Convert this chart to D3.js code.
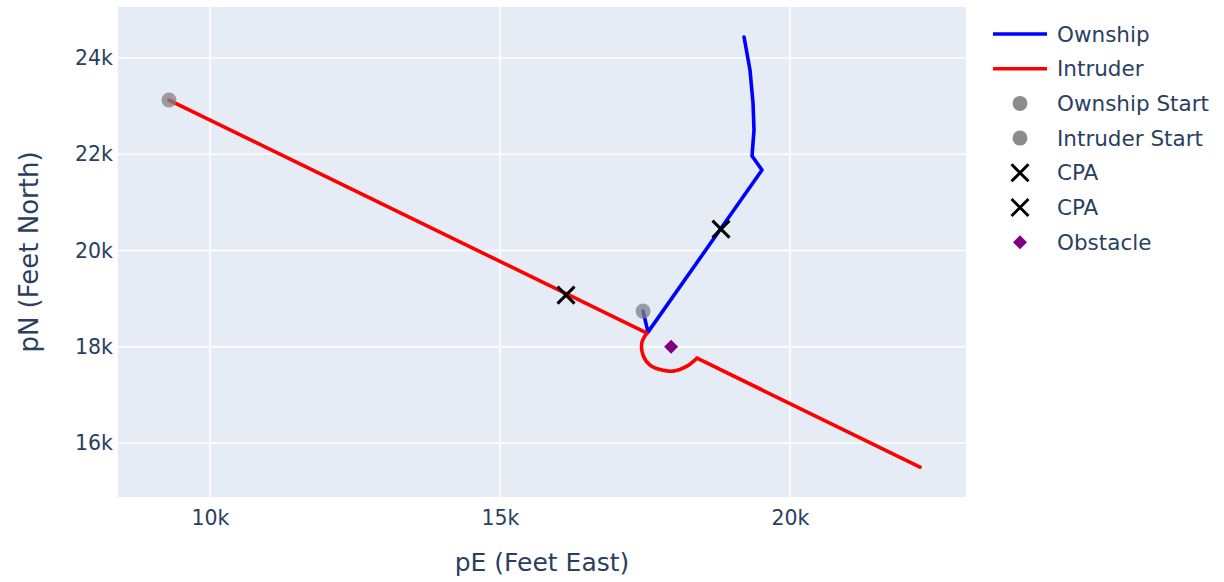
<!DOCTYPE html>
<html><head><meta charset="utf-8">
<script src="https://cdn.jsdelivr.net/npm/d3@7"></script>
<style>body{margin:0;background:#fff;}</style>
</head><body><svg id="c" width="1224" height="582"></svg>
<script>
const ownshipE = [17466, 17552, 19517, 19345, 19379, 19362, 19310, 19207];
const ownshipN = [18740, 18304, 21672, 21963, 22503, 23064, 23751, 24437];
const intruderE = [9293, 17534, 17448, 17466, 17586, 17793, 17983, 18224, 18397, 22241];
const intruderN = [23127, 18283, 18096, 17825, 17617, 17514, 17493, 17597, 17763, 15497];
const ownshipStart = [17466, 18740];
const intruderStart = [9293, 23127];
const cpaOwn = [18810, 20445];
const cpaInt = [16138, 19073];
const obstacle = [17950, 18000];
const xTicks = [10000, 15000, 20000];
const yTicks = [16000, 18000, 20000, 22000, 24000];
const legendNames = ["Ownship","Intruder","Ownship Start","Intruder Start","CPA","CPA","Obstacle"];

const FONT = "DejaVu Sans, Verdana, sans-serif";
const svg = d3.select("#c").attr("font-family", FONT);
const L=118, R=966, T=7, B=497;
const x = d3.scaleLinear().domain([8414, 23034]).range([L, R]);
const y = d3.scaleLinear().domain([14877, 25060]).range([B, T]);
const txtCol = "#2a3f5f";

svg.append("rect").attr("x",L).attr("y",T).attr("width",R-L).attr("height",B-T).attr("fill","#E5ECF6");
const g = svg.append("g");
g.selectAll(".gx").data(xTicks).join("line").attr("x1",d=>x(d)).attr("x2",d=>x(d)).attr("y1",T).attr("y2",B).attr("stroke","#fff").attr("stroke-width",1.5);
g.selectAll(".gy").data(yTicks).join("line").attr("y1",d=>y(d)).attr("y2",d=>y(d)).attr("x1",L).attr("x2",R).attr("stroke","#fff").attr("stroke-width",1.5);

const fmt = d => (d/1000)+"k";
svg.append("g").attr("transform",`translate(0,${B})`).call(d3.axisBottom(x).tickValues(xTicks).tickFormat(fmt).tickSize(0).tickPadding(13))
  .call(a=>a.select(".domain").remove())
  .selectAll("text").attr("font-family",FONT).attr("font-size",20.5).attr("fill",txtCol);
svg.append("g").attr("transform",`translate(${L},0)`).call(d3.axisLeft(y).tickValues(yTicks).tickFormat(fmt).tickSize(0).tickPadding(5))
  .call(a=>a.select(".domain").remove())
  .selectAll("text").attr("font-family",FONT).attr("font-size",20.5).attr("fill",txtCol);

svg.append("text").attr("x",542).attr("y",571).attr("text-anchor","middle").attr("font-size",25).attr("fill",txtCol).text("pE (Feet East)");
svg.append("text").attr("transform","translate(38,252) rotate(-90)").attr("text-anchor","middle").attr("font-size",26).attr("fill",txtCol).text("pN (Feet North)");

const lin = d3.line().x(d=>x(d[0])).y(d=>y(d[1]));
const crv = d3.line().x(d=>x(d[0])).y(d=>y(d[1])).curve(d3.curveCatmullRom);
const own = ownshipE.map((e,i)=>[e,ownshipN[i]]);
const intr = intruderE.map((e,i)=>[e,intruderN[i]]);
const n = intr.length;
const intrPath = lin(intr.slice(0,2)) + crv(intr.slice(1,n-1)) + lin(intr.slice(n-2));
svg.append("clipPath").attr("id","cp").append("rect").attr("x",L).attr("y",T).attr("width",R-L).attr("height",B-T);
const pg = svg.append("g").attr("clip-path","url(#cp)");
pg.append("path").attr("d",lin(own)).attr("fill","none").attr("stroke","#0000ff").attr("stroke-width",3.6).attr("stroke-linejoin","round").attr("stroke-linecap","round");
pg.append("path").attr("d",intrPath).attr("fill","none").attr("stroke","#ff0000").attr("stroke-width",3.6).attr("stroke-linejoin","round").attr("stroke-linecap","round");

function circle(sel, cx, cy, op){ sel.append("circle").attr("cx",cx).attr("cy",cy).attr("r",7.5).attr("fill","#808080").attr("opacity",op); }
function cross(sel, cx, cy){ const s=8.5; sel.append("path").attr("d",`M${cx-s},${cy-s}L${cx+s},${cy+s}M${cx-s},${cy+s}L${cx+s},${cy-s}`).attr("stroke","#000").attr("stroke-width",3); }
function diamond(sel, cx, cy){ const s=7; sel.append("path").attr("d",`M${cx},${cy-s}L${cx+s},${cy}L${cx},${cy+s}L${cx-s},${cy}Z`).attr("fill","#800080"); }

const mg = svg.append("g");
circle(mg, x(ownshipStart[0]), y(ownshipStart[1]), 0.75);
circle(mg, x(intruderStart[0]), y(intruderStart[1]), 0.75);
cross(mg, x(cpaOwn[0]), y(cpaOwn[1]));
cross(mg, x(cpaInt[0]), y(cpaInt[1]));
diamond(mg, x(obstacle[0]), y(obstacle[1]));

const lg = svg.append("g");
legendNames.forEach((nm,i)=>{
  const cy = 34 + i*34.7;
  if(i===0) lg.append("line").attr("x1",993).attr("x2",1047).attr("y1",cy).attr("y2",cy).attr("stroke","#0000ff").attr("stroke-width",3.5);
  if(i===1) lg.append("line").attr("x1",993).attr("x2",1047).attr("y1",cy).attr("y2",cy).attr("stroke","#ff0000").attr("stroke-width",3.5);
  if(i===2||i===3) circle(lg,1020,cy,0.9);
  if(i===4||i===5) cross(lg,1020,cy);
  if(i===6) diamond(lg,1020,cy);
  lg.append("text").attr("x",1057).attr("y",cy+7.5).attr("font-size",21.5).attr("fill",txtCol).text(nm);
});
</script></body></html>
